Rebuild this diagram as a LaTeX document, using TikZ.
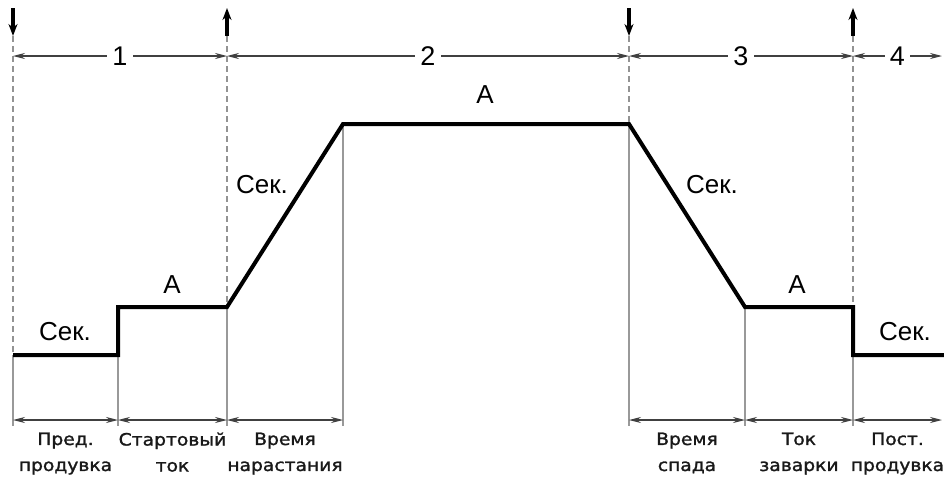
\documentclass[tikz,border=0pt]{standalone}
\usepackage{fontspec}
\setmainfont{Liberation Sans}
\newfontfamily\stagefont[FakeStretch=1.1, FakeBold=1.5]{DejaVu Sans}
\usetikzlibrary{arrows.meta, positioning, calc}

\begin{document}
\begin{tikzpicture}[
    x=0.5pt, y=-0.5pt,
    wave/.style={line width=2pt, line join=miter},
    guide/.style={draw=gray!85, line width=0.6pt, dash pattern=on 3pt off 2pt},
    ext/.style={draw=gray!80, line width=0.7pt},
    dim/.style={{Stealth[length=6pt,width=3pt]}-{Stealth[length=6pt,width=3pt]}, draw=black!75, line width=0.6pt},
    trig/.style={-{Stealth[length=6pt,width=4.5pt]}, line width=1.6pt},
    amp/.style={font=\fontsize{13}{15}\selectfont, inner sep=0pt},
    num/.style={font=\fontsize{13.5}{15}\selectfont, fill=white, inner sep=2.5pt},
    stage/.style={font=\stagefont\fontsize{8.5}{13}\selectfont, align=center, text=black!90, inner sep=0pt, below=6pt}
]
    \useasboundingbox (0,0) rectangle (944,477);

    % Current waveform
    \coordinate (p0) at (13,355);
    \coordinate (p1) at (118,355);
    \coordinate (p2) at (118,307);
    \coordinate (p3) at (227,307);
    \coordinate (p4) at (343,124);
    \coordinate (p5) at (629,124);
    \coordinate (p6) at (745,307);
    \coordinate (p7) at (853,307);
    \coordinate (p8) at (853,355);
    \coordinate (p9) at (944,355);

    % Top and bottom reference points
    \foreach \x [count=\i from 0] in {13,227,629,853,942} {
        \coordinate (t\i) at (\x,56);
        \coordinate (g\i) at (\x,36);
    }
    \foreach \x [count=\i from 0] in {13,118,227,343,629,745,853,942} {
        \coordinate (d\i) at (\x,420);
        \coordinate (e\i) at (\x,426);
    }

    % Dashed guides
    \draw[guide] (g0) -- (p0);
    \draw[guide] (g1) -- (p3);
    \draw[guide] (g2) -- (p5);
    \draw[guide] (g3) -- (p7);

    % Extension lines
    \draw[ext] (p0) -- (e0);
    \draw[ext] (p1) -- (e1);
    \draw[ext] (p3) -- (e2);
    \draw[ext] (p4) -- (e3);
    \draw[ext] (p5) -- (e4);
    \draw[ext] (p6) -- (e5);
    \draw[ext] (p8) -- (e6);

    \draw[wave] (p0) -- (p1) -- (p2) -- (p3) -- (p4) -- (p5) -- (p6) -- (p7) -- (p8) -- (p9);

    % Trigger arrows
    \draw[trig] (13,8) -- (13,36);
    \draw[trig] (227,36) -- (227,8);
    \draw[trig] (629,8) -- (629,36);
    \draw[trig] (853,36) -- (853,8);

    % Phase numbers
    \draw[dim] (t0) -- (t1) node[num, midway] (n1) {1};
    \draw[dim] (t1) -- (t2) node[num, midway] (n2) {2};
    \draw[dim] (t2) -- (t3) node[num, midway] (n3) {3};
    \draw[dim] (t3) -- (t4) node[num, midway] (n4) {4};

    % Level labels
    \node[amp] (s1) at (65,332) {Сек.};
    \node[amp] (a1) at (172,285) {А};
    \node[amp] (s2) at (262,185) {Сек.};
    \node[amp] (a2) at (485,95) {А};
    \node[amp] (s3) at (712,185) {Сек.};
    \node[amp] (a3) at (797,285) {А};
    \node[amp] (s4) at (905,332) {Сек.};

    % Stage durations
    \draw[dim] (d0) -- (d1) node[stage, midway] (pre) {Пред.\\продувка};
    \draw[dim] (d1) -- (d2) node[stage, midway] (start) {Стартовый\\ток};
    \draw[dim] (d2) -- (d3) node[stage, midway] (rise) {Время\\нарастания};
    \draw[dim] (d4) -- (d5) node[stage, midway] (fall) {Время\\спада};
    \draw[dim] (d5) -- (d6) node[stage, midway] (crater) {Ток\\заварки};
    \draw[dim] (d6) -- (d7) node[stage, midway] (post) {Пост.\\продувка};

\end{tikzpicture}
\end{document}
